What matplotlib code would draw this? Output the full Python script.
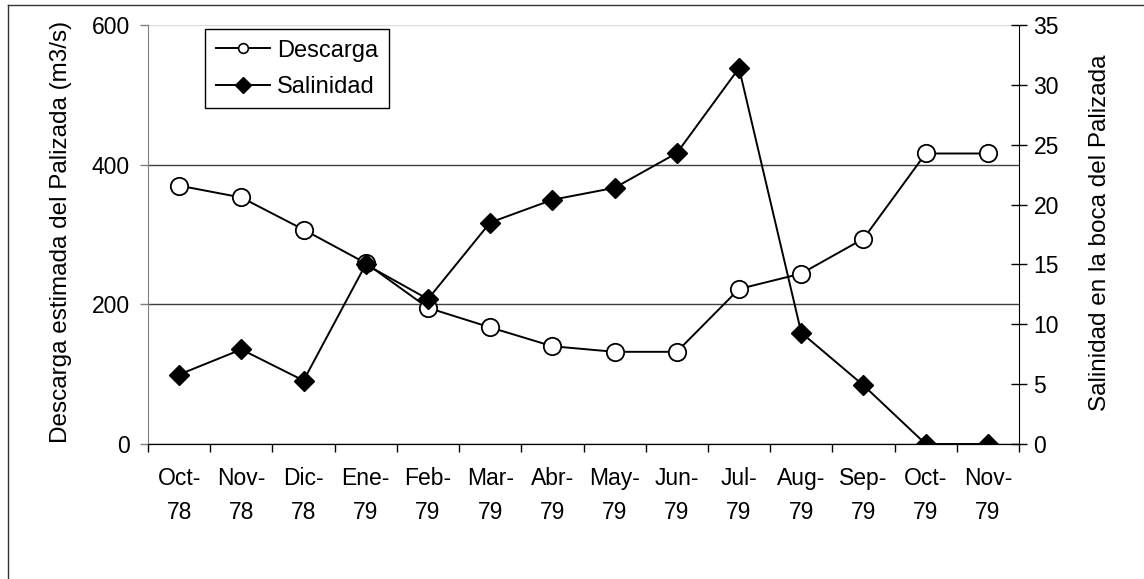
import matplotlib
matplotlib.use("Agg")
import matplotlib.pyplot as plt
from matplotlib.lines import Line2D

plt.rcParams["font.family"] = ["Liberation Sans", "DejaVu Sans"]

# monthly values
months = ["Oct-\n78", "Nov-\n78", "Dic-\n78", "Ene-\n79", "Feb-\n79", "Mar-\n79", "Abr-\n79",
          "May-\n79", "Jun-\n79", "Jul-\n79", "Aug-\n79", "Sep-\n79", "Oct-\n79", "Nov-\n79"]
descarga = [370, 353, 307, 259, 195, 167, 140, 132, 132, 222, 244, 294, 416, 416]
salinidad = [5.8, 7.9, 5.3, 15.0, 12.1, 18.5, 20.4, 21.4, 24.3, 31.4, 9.3, 4.9, 0, 0]
left_ticks = [0, 200, 400, 600]
right_ticks = [0, 5, 10, 15, 20, 25, 30, 35]

FS = 16.5
fig = plt.figure(figsize=(11.44, 5.79), dpi=100)
ax = fig.add_axes([148 / 1144, 1 - 444 / 579, 871 / 1144, 419 / 579])
ax2 = ax.twinx()

x = list(range(len(months)))

ax.plot(x, descarga, color="black", lw=1.4, marker="o", ms=12.5,
        mfc="white", mec="black", mew=1.3, zorder=3)
ax2.plot(x, salinidad, color="black", lw=1.4, marker="D", ms=10,
         mfc="black", mec="black", mew=1, zorder=3)

ax.set_xlim(-0.5, len(months) - 0.5)
ax.set_ylim(0, 600)
ax2.set_ylim(0, 35)

# category boundaries as major ticks, labels on minor ticks at centres
ax.set_xticks([i - 0.5 for i in range(len(months) + 1)])
ax.set_xticklabels([])
ax.set_xticks(x, minor=True)
ax.set_xticklabels(months, minor=True, fontsize=FS, linespacing=1.62)
ax.tick_params(axis="x", which="major", direction="out", length=6, width=1, color="black")
ax.tick_params(axis="x", which="minor", length=0, pad=16.5)

ax.set_yticks(left_ticks)
ax.set_yticklabels([str(v) for v in left_ticks], fontsize=FS)
ax.tick_params(axis="y", direction="out", length=6, width=1, color="#808080", pad=7)

ax2.set_yticks(right_ticks)
ax2.set_yticklabels([str(v) for v in right_ticks], fontsize=FS)
ax2.tick_params(axis="y", direction="inout", length=11, width=1, color="black", pad=5)

ax.yaxis.grid(True, color="#404040", lw=1)
ax.get_ygridlines()[-1].set_color("#dddddd")
ax.set_axisbelow(True)

for a in (ax, ax2):
    a.spines["top"].set_visible(False)
ax.spines["left"].set_color("#808080")
ax2.spines["left"].set_visible(False)
ax.spines["right"].set_visible(False)
ax2.spines["right"].set_color("black")
ax2.spines["bottom"].set_color("black")
ax.spines["bottom"].set_color("black")

fig.text(61 / 1144, 1 - 232 / 579, "Descarga estimada del Palizada (m3/s)",
         rotation=90, ha="center", va="center", fontsize=17.5)
fig.text(1100 / 1144, 1 - 233 / 579, "Salinidad en la boca del Palizada",
         rotation=90, ha="center", va="center", fontsize=17.5)

handles = [
    Line2D([], [], color="black", lw=1.4, marker="o", ms=7, mfc="white", mec="black", mew=1.2),
    Line2D([], [], color="black", lw=1.4, marker="D", ms=8, mfc="black", mec="black"),
]
leg = ax2.legend(handles, ["Descarga", "Salinidad"], loc="upper left",
                 bbox_to_anchor=((205 - 148) / 871, (444 - 29) / 419),
                 fontsize=17, frameon=True, fancybox=False, framealpha=1,
                 edgecolor="black", handlelength=2.3, handletextpad=0.3,
                 borderpad=0.45, labelspacing=0.6, borderaxespad=0)
leg.get_frame().set_linewidth(1)

# outer chart-area border (cut at right and bottom like the source)
fig.add_artist(Line2D([8 / 1144, 8 / 1144], [0, 1 - 5 / 579], transform=fig.transFigure,
                      color="#333333", lw=1))
fig.add_artist(Line2D([8 / 1144, 1], [1 - 5 / 579, 1 - 5 / 579], transform=fig.transFigure,
                      color="#333333", lw=1))

fig.savefig("out.png", dpi=100)
